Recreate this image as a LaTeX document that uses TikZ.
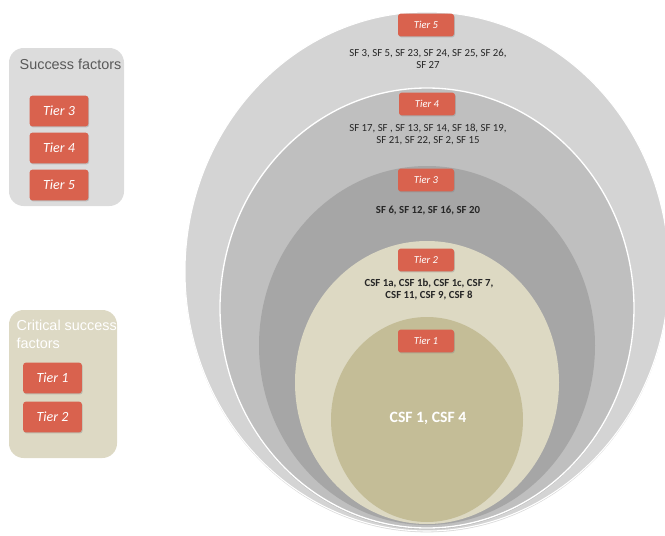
\documentclass[tikz,border=0pt]{standalone}
\usepackage{fontspec}
\setmainfont{Carlito}
\newfontfamily\arialfont{Liberation Sans}
\usetikzlibrary{shadows}
\definecolor{tierred}{HTML}{D9624E}
\definecolor{ringfive}{HTML}{D4D4D4}
\definecolor{ringfour}{HTML}{BFBFBF}
\definecolor{ringthree}{HTML}{A6A6A6}
\definecolor{ringtwo}{HTML}{DDD9C3}
\definecolor{ringone}{HTML}{C4BD97}
\definecolor{sfpanel}{HTML}{DCDCDC}
\definecolor{csfpanel}{HTML}{DDD9C4}
\definecolor{titlegray}{HTML}{595959}
\begin{document}
\begin{tikzpicture}[x=0.75pt,y=-0.75pt,
    tier/.style={fill=tierred, rounded corners=2pt, text=white,
      font=\itshape\fontsize{8}{9}\selectfont, minimum width=42pt,
      minimum height=17pt, inner sep=0pt,
      drop shadow={opacity=0.35, shadow xshift=0.6pt, shadow yshift=-0.8pt}},
    bigtier/.style={tier, font=\itshape\fontsize{10.5}{12}\selectfont,
      minimum width=44pt, minimum height=23pt},
    sftext/.style={align=center, text=black!85, font=\fontsize{8.1}{9.3}\selectfont},
    csftext/.style={sftext, font=\bfseries\fontsize{8.1}{9.3}\selectfont},
    ringshadow/.style={drop shadow={opacity=0.3, shadow xshift=0pt, shadow yshift=-1pt}},
    paneltitle/.style={anchor=west, align=left, font=\arialfont\fontsize{10.8}{13.5}\selectfont}]
  \useasboundingbox (0,0) rectangle (665,536);
  \begin{scope}
    \clip (0,0) rectangle (665,536);
    \fill[ringfive, draw=white, line width=0.8pt, ringshadow] (427,271.5) ellipse (242 and 259.5);
    \fill[ringfour, draw=white, line width=1pt, ringshadow] (427,308) ellipse (207 and 220);
    \fill[ringthree] (427,345.5) ellipse (168 and 179.5);
    \fill[ringtwo] (427,382.5) ellipse (132 and 141.5);
    \fill[ringone] (427,419.5) ellipse (96 and 102.5);
  \end{scope}
  \node[tier] (t5) at (426,25) {Tier 5};
  \node[sftext] (sf5) at (428,59) {SF 3, SF 5, SF 23, SF 24, SF 25, SF 26,\\SF 27};
  \node[tier] (t4) at (427,104) {Tier 4};
  \node[sftext] (sf4) at (428,134.5) {SF 17, SF , SF 13, SF 14, SF 18, SF 19,\\SF 21, SF 22, SF 2, SF 15};
  \node[tier] (t3) at (426,180) {Tier 3};
  \node[csftext] (sf3) at (428,211) {SF 6, SF 12, SF 16, SF 20};
  \node[tier] (t2) at (426,260) {Tier 2};
  \node[csftext] (csf2) at (429,289.5) {CSF 1a, CSF 1b, CSF 1c, CSF 7,\\CSF 11, CSF 9, CSF 8};
  \node[tier] (t1) at (426,341) {Tier 1};
  \node[text=white, font=\bfseries\fontsize{11.8}{14}\selectfont] (csf1) at (428,418) {CSF 1, CSF 4};
  % legend panels
  \fill[sfpanel, rounded corners=11pt] (9,48) rectangle (124,206);
  \node[paneltitle, text=titlegray] (sftitle) at (15,64) {Success factors};
  \node[bigtier] (lt3) at (59,111) {Tier 3};
  \node[bigtier] (lt4) at (59,148) {Tier 4};
  \node[bigtier] (lt5) at (59,185) {Tier 5};
  \fill[csfpanel, rounded corners=11pt] (9,310) rectangle (117,458);
  \node[paneltitle, text=white] (csftitle) at (12,334) {Critical success\\factors};
  \node[bigtier] (lt1) at (52.5,378) {Tier 1};
  \node[bigtier] (lt2) at (52.5,417) {Tier 2};
\end{tikzpicture}
\end{document}
